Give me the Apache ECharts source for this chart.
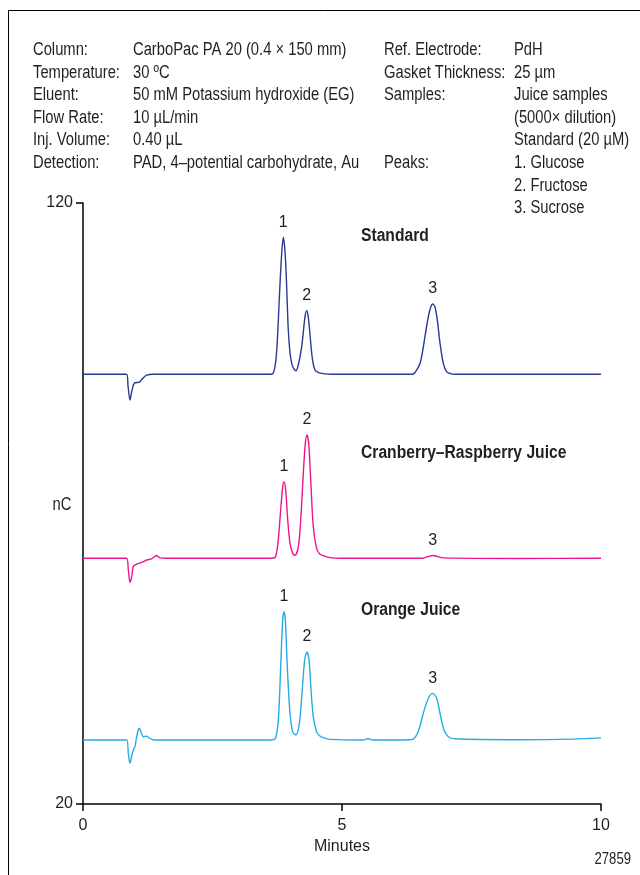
<!DOCTYPE html>
<html><head><meta charset="utf-8">
<script src="https://cdn.jsdelivr.net/npm/echarts@6/dist/echarts.min.js"></script>
<style>html,body{margin:0;padding:0;background:#fff}#c{width:640px;height:875px}</style>
</head><body><div id="c"></div>
<script>
var FONT = "'Liberation Sans',Arial,sans-serif";
var NARROW = 0.82;
var xTicks = [0, 5, 10];
var yTicks = [20, 120];
var seriesNames = ['Standard', 'Cranberry\u2013Raspberry Juice', 'Orange Juice'];
var seriesColors = ['#2b3990', '#ec168c', '#29abe2'];

var stdTrace = [[0,91.5],[0.84,91.5],[0.87,89.5],[0.907,87.2],[0.94,88.6],[0.99,90.0],[1.09,90.2],[1.16,90.9],[1.23,91.35],[1.35,91.5],[3.6,91.5],[3.662,91.6],[3.707,92.8],[3.74,95.5],[3.771,100.5],[3.80,106],[3.836,111.6],[3.867,114.3],[3.895,112.5],[3.919,108.9],[3.94,104],[3.963,98.9],[3.995,95.2],[4.029,93.3],[4.07,92.4],[4.112,92.1],[4.16,93.2],[4.222,96.1],[4.286,101.1],[4.318,102.1],[4.345,101.3],[4.369,99.4],[4.415,95.0],[4.445,93.2],[4.479,92.2],[4.54,91.8],[4.608,91.65],[4.8,91.5],[6.3,91.5],[6.377,91.55],[6.44,92.2],[6.506,93.3],[6.56,95.5],[6.602,97.8],[6.667,101.1],[6.713,102.7],[6.751,103.2],[6.795,102.7],[6.84,100.5],[6.892,96.7],[6.956,93.3],[7.021,91.9],[7.1,91.6],[7.18,91.5],[10,91.5]];

var cranTrace = [[0,60.9],[0.84,60.9],[0.875,59.0],[0.907,56.9],[0.94,57.8],[0.971,59.5],[1.036,59.9],[1.133,60.2],[1.23,60.6],[1.326,60.8],[1.39,61.2],[1.42,61.35],[1.455,61.15],[1.486,60.95],[1.6,60.9],[3.62,60.9],[3.707,61.0],[3.74,62.0],[3.77,63.9],[3.816,68.9],[3.855,72.8],[3.88,73.6],[3.913,72.2],[3.952,67.3],[3.996,63.4],[4.048,61.7],[4.093,61.4],[4.157,62.8],[4.203,67.3],[4.253,75.0],[4.292,80.0],[4.324,81.4],[4.357,80.0],[4.396,73.9],[4.446,66.1],[4.511,62.5],[4.56,61.7],[4.608,61.4],[4.768,61.0],[5.0,60.9],[6.55,60.9],[6.65,61.15],[6.75,61.35],[6.85,61.15],[6.95,60.95],[8.4,60.85],[10,60.9]];

var orangeTrace = [[0,30.65],[0.843,30.65],[0.875,28.4],[0.907,26.8],[0.946,28.2],[0.971,29.0],[1.004,29.6],[1.036,31.2],[1.068,32.4],[1.087,32.6],[1.126,31.8],[1.165,31.2],[1.23,31.3],[1.293,30.9],[1.358,30.7],[1.5,30.65],[3.62,30.65],[3.707,30.8],[3.74,31.8],[3.771,34.0],[3.795,38],[3.816,42.8],[3.855,50.6],[3.88,52.0],[3.906,50.6],[3.944,42.8],[3.996,35.1],[4.048,32.0],[4.112,31.5],[4.176,33.4],[4.228,38.4],[4.28,44.0],[4.324,45.3],[4.363,44.0],[4.402,39.0],[4.446,34.5],[4.511,32.0],[4.56,31.4],[4.65,31.0],[4.768,30.75],[5.4,30.65],[5.5,30.85],[5.6,30.65],[6.3,30.7],[6.377,30.8],[6.473,32.1],[6.57,35.1],[6.667,37.6],[6.75,38.4],[6.828,37.6],[6.892,35.1],[6.969,32.3],[7.052,31.2],[7.181,30.85],[8.37,30.7],[9.466,30.8],[10,31.0]];

var stdPeaks = [[3.867,114.3,'1'],[4.318,102.1,'2'],[6.751,103.2,'3']];
var cranPeaks = [[3.88,73.6,'1'],[4.324,81.4,'2'],[6.75,61.35,'3']];
var orangePeaks = [[3.88,52.0,'1'],[4.324,45.3,'2'],[6.75,38.4,'3']];

var headerLeft = [['Column:','CarboPac PA 20 (0.4 \u00d7 150 mm)'],['Temperature:','30 \u00baC'],['Eluent:','50 mM Potassium hydroxide (EG)'],['Flow Rate:','10 \u00b5L/min'],['Inj. Volume:','0.40 \u00b5L'],['Detection:','PAD, 4\u2013potential carbohydrate, Au']];
var headerRight = [['Ref. Electrode:','PdH'],['Gasket Thickness:','25 \u00b5m'],['Samples:','Juice samples'],['','(5000\u00d7 dilution)'],['','Standard (20 \u00b5M)'],['Peaks:','1. Glucose'],['','2. Fructose'],['','3. Sucrose']];

var chart = echarts.init(document.getElementById('c'), null, {renderer:'canvas'});

function peakMarks(p){
  return {
    symbol:'circle', symbolSize:0, silent:true,
    label:{show:true, position:'inside', offset:[0,-15], formatter:function(d){return d.name;}, color:'#231f20', fontFamily:FONT, fontSize:16},
    data:p.map(function(a){return {name:a[2], coord:[a[0],a[1]]};})
  };
}

function txt(x, y, s, opt){
  opt = opt || {};
  return {type:'text', x:x, y:y, scaleX:opt.scale||NARROW, silent:true,
    style:{text:s, fontFamily:FONT, fontSize:opt.size||18, fontWeight:opt.weight||'normal', fill:'#231f20',
      textAlign:opt.align||'left', textVerticalAlign:'middle'}};
}

var graphics = [
  {type:'rect', shape:{x:8.5,y:10.5,width:700,height:900}, style:{fill:'none', stroke:'#000', lineWidth:1}, silent:true}
];
var rowY0 = 50, rowH = 22.6;
headerLeft.forEach(function(r,i){
  graphics.push(txt(33, rowY0+i*rowH, r[0]));
  graphics.push(txt(133, rowY0+i*rowH, r[1]));
});
headerRight.forEach(function(r,i){
  graphics.push(txt(384, rowY0+i*rowH, r[0]));
  graphics.push(txt(514, rowY0+i*rowH, r[1]));
});
var nameY = [236, 453, 610];
seriesNames.forEach(function(n,i){
  graphics.push(txt(361, nameY[i], n, {weight:'bold', scale:0.87}));
});
graphics.push(txt(62, 505, 'nC', {align:'center'}));
graphics.push(txt(631, 860, '27859', {align:'right', size:16}));

function lineSeries(name, data, color, peaks){
  return {type:'line', name:name, data:data, showSymbol:false, symbol:'none', smooth:0.3, clip:true,
    lineStyle:{color:color, width:1.4}, markPoint:peakMarks(peaks), animation:false};
}

chart.setOption({
  animation:false,
  grid:{left:83, right:39, top:203, bottom:71},
  xAxis:{type:'value', min:0, max:10, interval:5,
    name:'Minutes', nameLocation:'middle', nameGap:32, nameTextStyle:{fontFamily:FONT, fontSize:16, color:'#231f20'},
    axisLine:{show:true, lineStyle:{color:'#000', width:1.5}},
    axisTick:{show:true, length:7, lineStyle:{color:'#000', width:1.5}},
    axisLabel:{fontFamily:FONT, fontSize:16, color:'#231f20', margin:14, formatter:function(v){return xTicks.indexOf(v)>=0? String(v):'';}},
    splitLine:{show:false}},
  yAxis:{type:'value', min:20, max:120,
    axisLine:{show:true, lineStyle:{color:'#000', width:1.5}},
    axisTick:{show:true, length:7, customValues:yTicks, lineStyle:{color:'#000', width:1.5}},
    axisLabel:{fontFamily:FONT, fontSize:16, color:'#231f20', margin:10, customValues:yTicks},
    splitLine:{show:false}},
  graphic:graphics,
  series:[
    lineSeries(seriesNames[0], stdTrace, seriesColors[0], stdPeaks),
    lineSeries(seriesNames[1], cranTrace, seriesColors[1], cranPeaks),
    lineSeries(seriesNames[2], orangeTrace, seriesColors[2], orangePeaks)
  ]
});
</script></body></html>
